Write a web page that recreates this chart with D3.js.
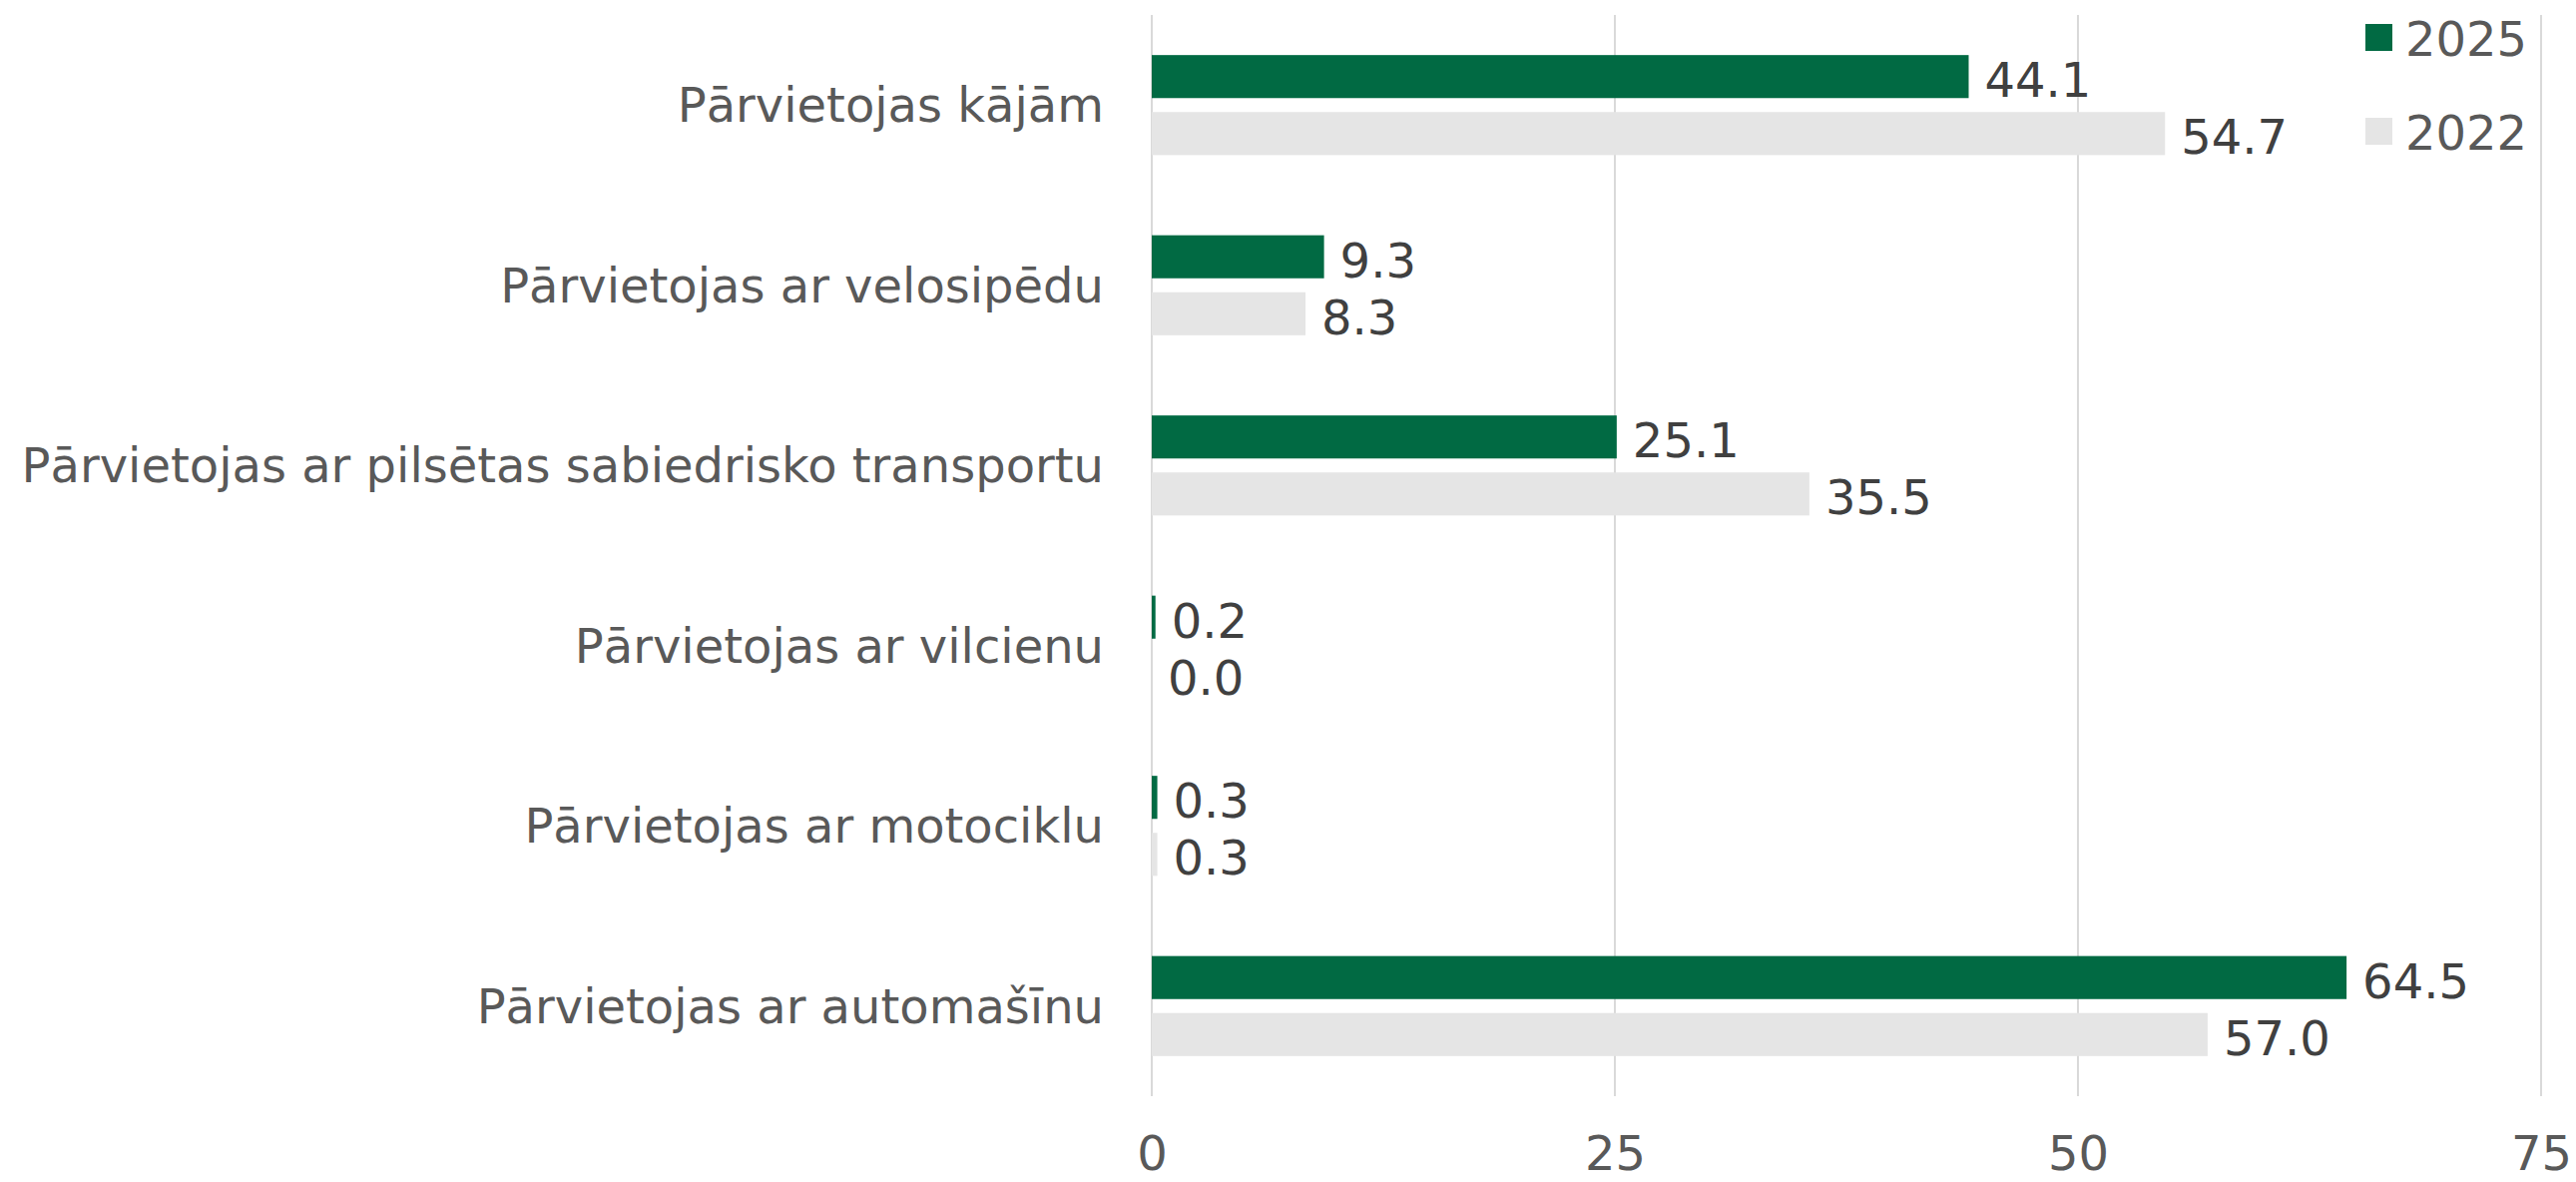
<!DOCTYPE html>
<html>
<head>
<meta charset="utf-8">
<script src="https://cdn.jsdelivr.net/npm/d3@7"></script>
<style>
  html, body { margin: 0; padding: 0; background: #fff; }
  svg { display: block; }
</style>
</head>
<body>
<script>
const categories = [
  "Pārvietojas kājām",
  "Pārvietojas ar velosipēdu",
  "Pārvietojas ar pilsētas sabiedrisko transportu",
  "Pārvietojas ar vilcienu",
  "Pārvietojas ar motociklu",
  "Pārvietojas ar automašīnu"
];
const series = ["2025", "2022"];
const values2025 = [44.1, 9.3, 25.1, 0.2, 0.3, 64.5];
const values2022 = [54.7, 8.3, 35.5, 0.0, 0.3, 57.0];
const xTicks = [0, 25, 50, 75];
const colours = { "2025": "#016a43", "2022": "#e5e5e5" };

const width = 2581, height = 1184;
const margin = { top: 15, right: 35, bottom: 86, left: 1154 };
const plotW = width - margin.left - margin.right;
const plotH = height - margin.top - margin.bottom;
const font = "'DejaVu Sans', Verdana, sans-serif";

const svg = d3.select("body").append("svg")
  .attr("width", width)
  .attr("height", height);

const g = svg.append("g")
  .attr("transform", "translate(" + margin.left + "," + margin.top + ")");

const x = d3.scaleLinear().domain([0, 75]).range([0, plotW]);
const y = d3.scaleBand().domain(categories).range([0, plotH]).paddingInner(0.445).paddingOuter(0.2225);
const ySub = d3.scaleBand().domain(series).range([0, y.bandwidth()]).paddingInner(0.245);

// gridlines
g.selectAll(".grid")
  .data(xTicks)
  .enter()
  .append("line")
  .attr("x1", (d) => x(d))
  .attr("x2", (d) => x(d))
  .attr("y1", 0)
  .attr("y2", plotH)
  .attr("stroke", "#d9d9d9")
  .attr("stroke-width", 2);

// x axis labels
const xAxis = d3.axisBottom(x).tickValues(xTicks).tickSize(0).tickPadding(40);
const ax = g.append("g")
  .attr("transform", "translate(0," + plotH + ")")
  .call(xAxis);
ax.select(".domain").remove();
ax.selectAll("text")
  .attr("font-family", font)
  .attr("font-size", "48px")
  .attr("fill", "#595959");

// category labels
g.selectAll(".cat")
  .data(categories)
  .enter()
  .append("text")
  .attr("x", -48)
  .attr("y", (d) => y(d) + y.bandwidth() / 2)
  .attr("text-anchor", "end")
  .attr("dominant-baseline", "central")
  .attr("font-family", font)
  .attr("font-size", "48px")
  .attr("fill", "#595959")
  .text((d) => d);

const rows = [];
categories.forEach((c, i) => {
  rows.push({ cat: c, s: "2025", v: values2025[i] });
  rows.push({ cat: c, s: "2022", v: values2022[i] });
});

g.selectAll(".bar")
  .data(rows)
  .enter()
  .append("rect")
  .attr("x", 0)
  .attr("y", (d) => y(d.cat) + ySub(d.s))
  .attr("width", (d) => x(d.v))
  .attr("height", ySub.bandwidth())
  .attr("fill", (d) => colours[d.s]);

g.selectAll(".val")
  .data(rows)
  .enter()
  .append("text")
  .attr("x", (d) => x(d.v) + 16)
  .attr("y", (d) => y(d.cat) + ySub(d.s) + ySub.bandwidth() / 2 + 3.5)
  .attr("dominant-baseline", "central")
  .attr("font-family", font)
  .attr("font-size", "48px")
  .attr("fill", "#404040")
  .text((d) => d.v.toFixed(1));

// legend
const legend = svg.append("g").attr("transform", "translate(2370,24)");
series.forEach((s, i) => {
  legend.append("rect")
    .attr("x", 0)
    .attr("y", i * 94)
    .attr("width", 27)
    .attr("height", 27)
    .attr("fill", colours[s]);
  legend.append("text")
    .attr("x", 40)
    .attr("y", i * 94 + 14.5)
    .attr("dominant-baseline", "central")
    .attr("font-family", font)
    .attr("font-size", "48px")
    .attr("fill", "#595959")
    .text(s);
});
</script>
</body>
</html>
